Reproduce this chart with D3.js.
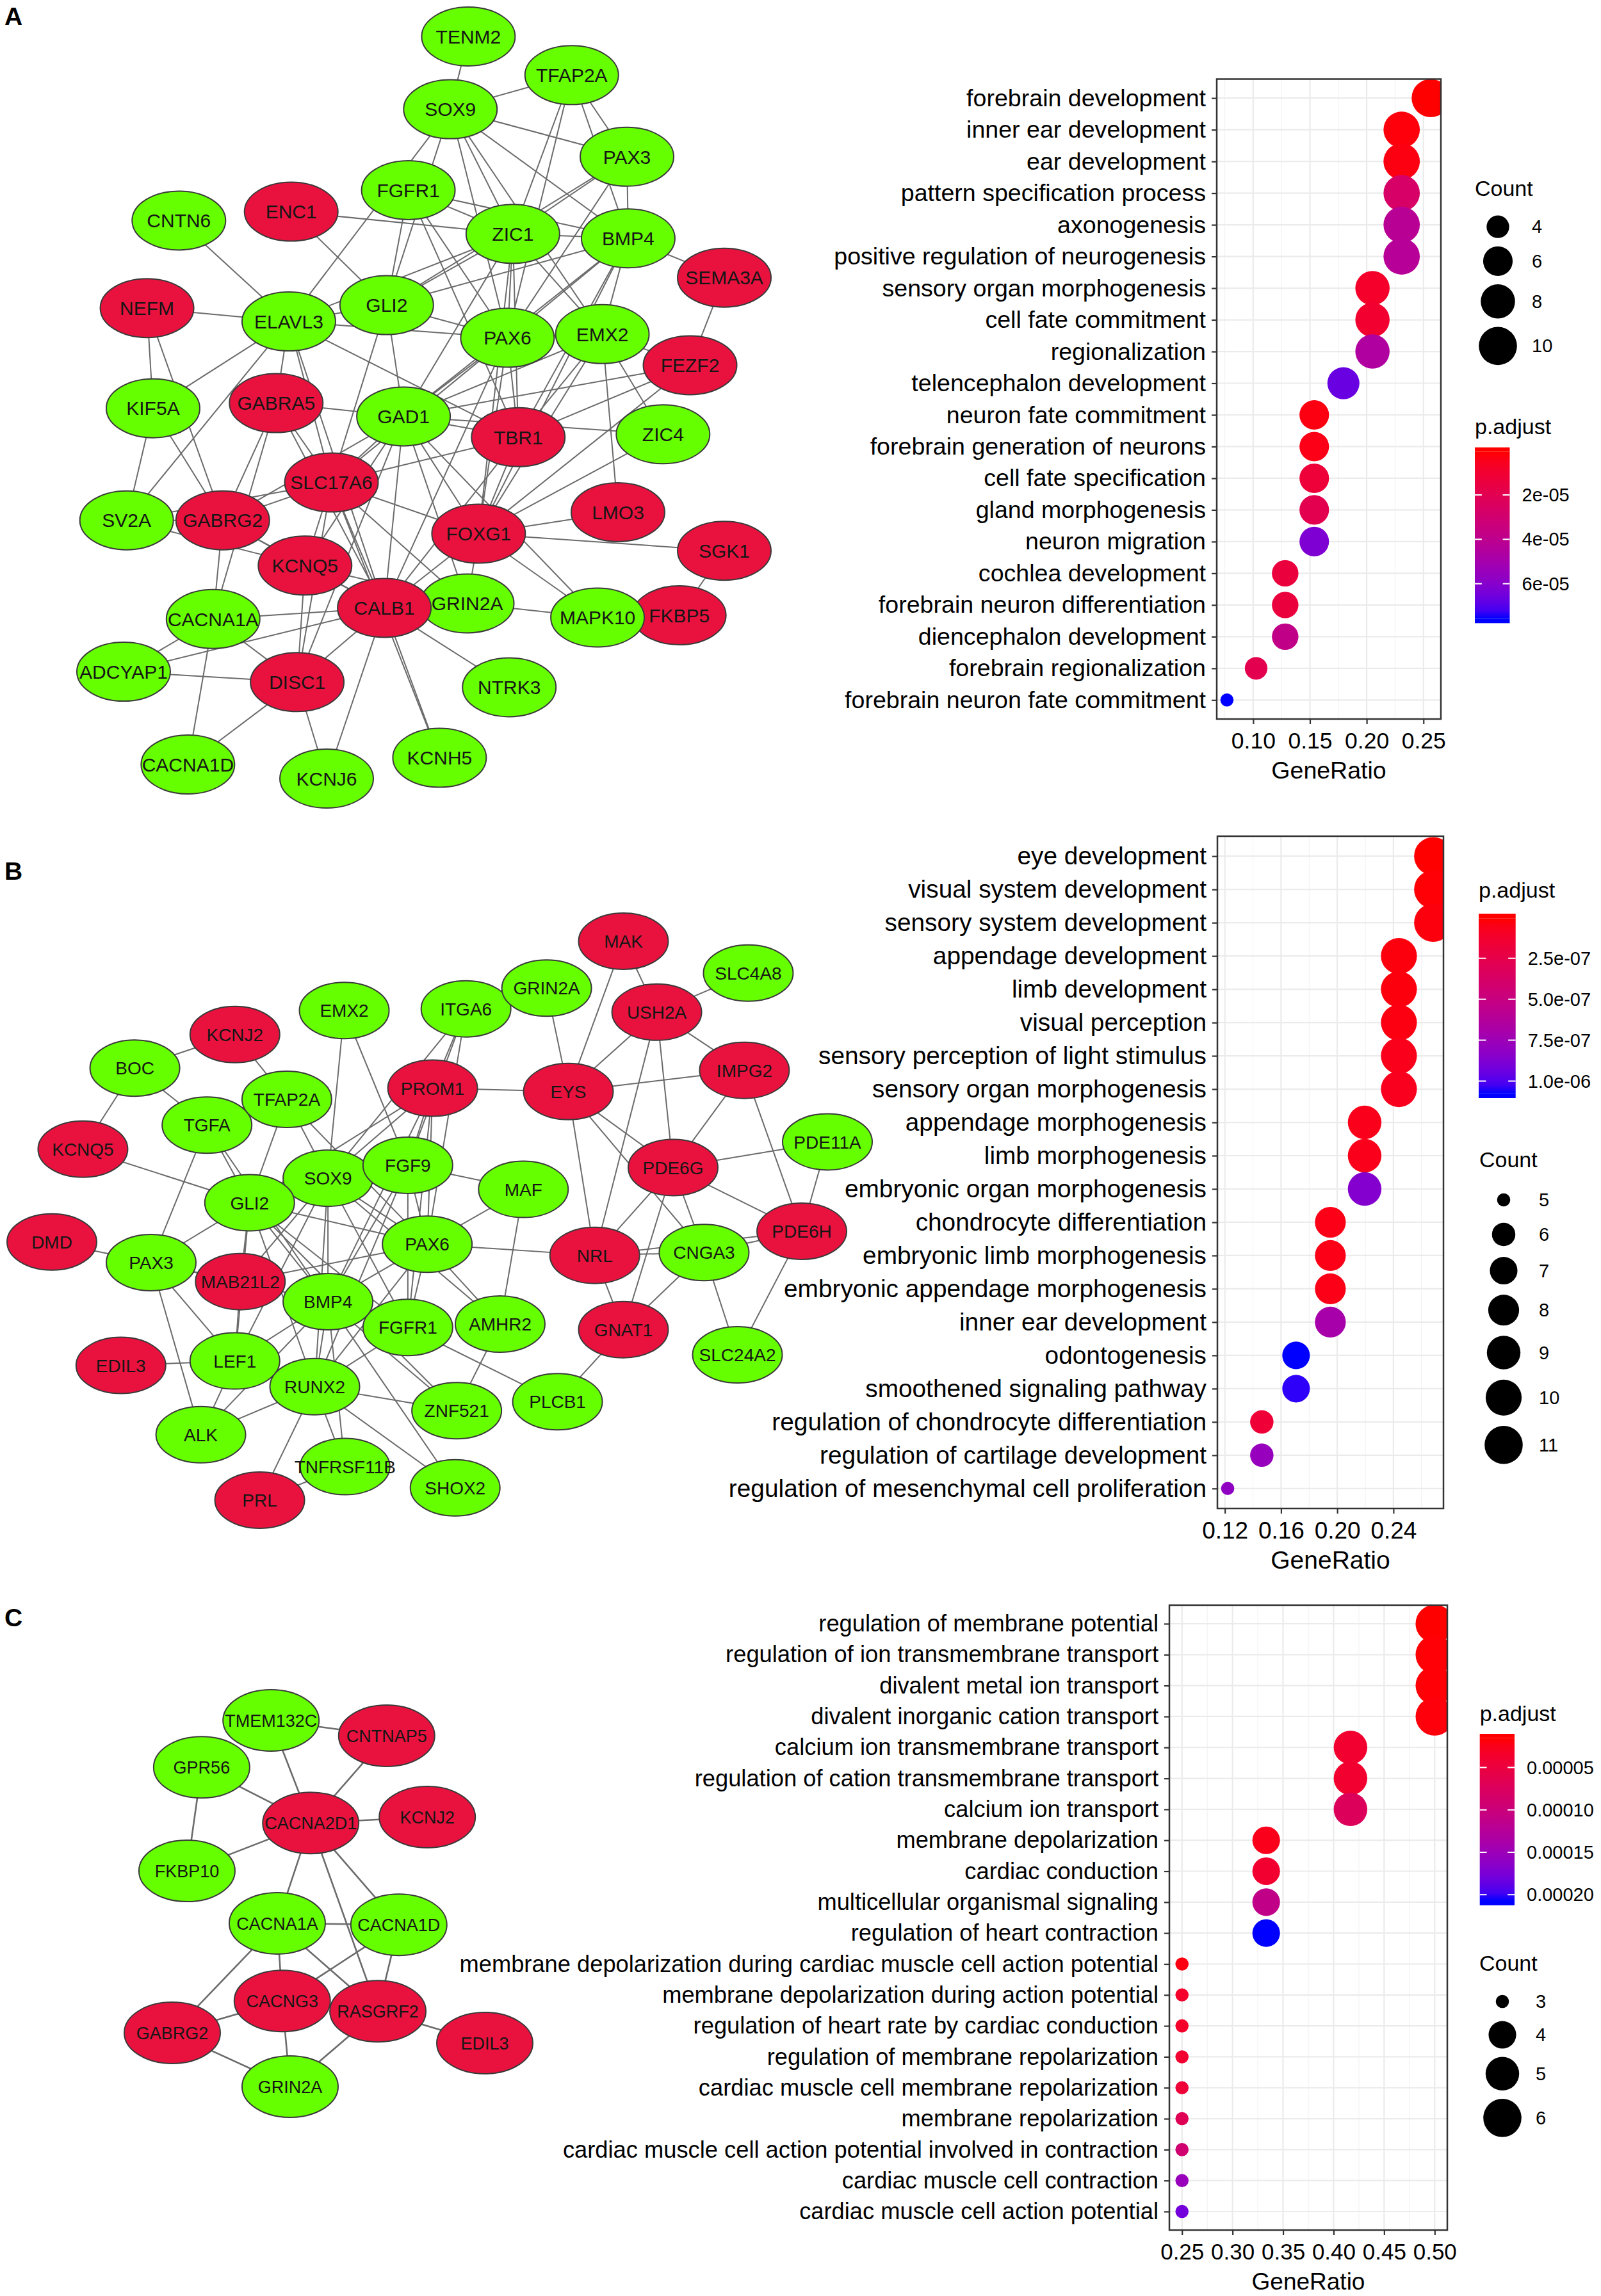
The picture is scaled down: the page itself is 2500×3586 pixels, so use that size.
<!DOCTYPE html>
<html>
<head>
  <meta charset="utf-8">
  <title>PPI networks and GO enrichment dot plots</title>
  <script src="https://cdnjs.cloudflare.com/ajax/libs/d3/7.8.5/d3.min.js"></script>
  <style>
    body {
      margin: 0;
      background: #fff;
    }
    svg {
      display: block;
      font-family: "Liberation Sans", Arial, sans-serif;
    }
    .edge {
      stroke: #6b6b6b;
    }
    .node ellipse {
      stroke: #3a3a3a;
      stroke-width: 2;
    }
    .node text {
      text-anchor: middle;
      fill: #151515;
    }
    .grid-major {
      stroke: #ebebeb;
      stroke-width: 2.2;
    }
    .grid-minor {
      stroke: #f1f1f1;
      stroke-width: 1.1;
    }
  </style>
</head>
<body>
  <script>
    const W = 2500, H = 3586;
    const FONT = '"Liberation Sans", Arial, sans-serif';
    const UP = "#e9123e", DOWN = "#66ff00";

    // ---------- Panel A: network ----------
    // layout coordinates (0-100) as exported from the network layout
    const nodesA = [
      { id: "TENM2", up: 0, lx: 57.4, ly: 0 },
      { id: "TFAP2A", up: 0, lx: 74.6, ly: 5.2 },
      { id: "SOX9", up: 0, lx: 54.4, ly: 9.8 },
      { id: "PAX3", up: 0, lx: 83.8, ly: 16.2 },
      { id: "FGFR1", up: 0, lx: 47.4, ly: 20.7 },
      { id: "ENC1", up: 1, lx: 27.9, ly: 23.6 },
      { id: "CNTN6", up: 0, lx: 9.2, ly: 24.8 },
      { id: "ZIC1", up: 0, lx: 64.8, ly: 26.6 },
      { id: "BMP4", up: 0, lx: 84.0, ly: 27.2 },
      { id: "SEMA3A", up: 1, lx: 100, ly: 32.5 },
      { id: "NEFM", up: 1, lx: 3.9, ly: 36.6 },
      { id: "ELAVL3", up: 0, lx: 27.5, ly: 38.4 },
      { id: "GLI2", up: 0, lx: 43.8, ly: 36.2 },
      { id: "PAX6", up: 0, lx: 63.9, ly: 40.6 },
      { id: "EMX2", up: 0, lx: 79.7, ly: 40.1 },
      { id: "FEZF2", up: 1, lx: 94.3, ly: 44.3 },
      { id: "KIF5A", up: 0, lx: 4.9, ly: 50.1 },
      { id: "GABRA5", up: 1, lx: 25.4, ly: 49.4 },
      { id: "GAD1", up: 0, lx: 46.6, ly: 51.2 },
      { id: "ZIC4", up: 0, lx: 89.8, ly: 53.6 },
      { id: "TBR1", up: 1, lx: 65.7, ly: 54.0 },
      { id: "SLC17A6", up: 1, lx: 34.6, ly: 60.1 },
      { id: "LMO3", up: 1, lx: 82.3, ly: 64.1 },
      { id: "SV2A", up: 0, lx: 0.5, ly: 65.2 },
      { id: "GABRG2", up: 1, lx: 16.5, ly: 65.2 },
      { id: "FOXG1", up: 1, lx: 59.1, ly: 67.0 },
      { id: "SGK1", up: 1, lx: 100, ly: 69.3 },
      { id: "KCNQ5", up: 1, lx: 30.2, ly: 71.3 },
      { id: "GRIN2A", up: 0, lx: 57.2, ly: 76.4 },
      { id: "CALB1", up: 1, lx: 43.4, ly: 77.0 },
      { id: "CACNA1A", up: 0, lx: 14.9, ly: 78.5 },
      { id: "FKBP5", up: 1, lx: 92.5, ly: 78.0 },
      { id: "MAPK10", up: 0, lx: 78.9, ly: 78.3 },
      { id: "ADCYAP1", up: 0, lx: 0, ly: 85.6 },
      { id: "DISC1", up: 1, lx: 28.9, ly: 87.0 },
      { id: "NTRK3", up: 0, lx: 64.2, ly: 87.7 },
      { id: "CACNA1D", up: 0, lx: 10.7, ly: 98.1 },
      { id: "KCNH5", up: 0, lx: 52.6, ly: 97.2 },
      { id: "KCNJ6", up: 0, lx: 33.8, ly: 100 }
    ];
    const edgesA = [
      ["TENM2", "SOX9"], ["SOX9", "TFAP2A"], ["SOX9", "PAX3"], ["SOX9", "ZIC1"], ["SOX9", "BMP4"],
      ["SOX9", "GLI2"], ["SOX9", "PAX6"], ["SOX9", "EMX2"], ["SOX9", "ELAVL3"], ["TFAP2A", "PAX3"],
      ["TFAP2A", "ZIC1"], ["TFAP2A", "BMP4"], ["TFAP2A", "PAX6"], ["PAX3", "ZIC1"], ["PAX3", "BMP4"],
      ["PAX3", "GLI2"], ["PAX3", "PAX6"], ["FGFR1", "ZIC1"], ["FGFR1", "BMP4"], ["FGFR1", "GLI2"],
      ["FGFR1", "PAX6"], ["FGFR1", "TBR1"], ["ENC1", "ZIC1"], ["ENC1", "GLI2"], ["CNTN6", "ELAVL3"],
      ["ZIC1", "BMP4"], ["ZIC1", "GLI2"], ["ZIC1", "PAX6"], ["ZIC1", "EMX2"], ["ZIC1", "TBR1"],
      ["ZIC1", "FOXG1"], ["ZIC1", "ELAVL3"], ["ZIC1", "GAD1"], ["BMP4", "GLI2"], ["BMP4", "PAX6"],
      ["BMP4", "SEMA3A"], ["BMP4", "EMX2"], ["BMP4", "TBR1"], ["BMP4", "FOXG1"], ["BMP4", "GAD1"],
      ["SEMA3A", "FEZF2"], ["NEFM", "ELAVL3"], ["NEFM", "KIF5A"], ["NEFM", "GABRG2"], ["ELAVL3", "GLI2"],
      ["ELAVL3", "PAX6"], ["ELAVL3", "KIF5A"], ["ELAVL3", "SV2A"], ["ELAVL3", "GABRA5"], ["ELAVL3", "SLC17A6"],
      ["ELAVL3", "TBR1"], ["ELAVL3", "CALB1"], ["GLI2", "PAX6"], ["GLI2", "GAD1"], ["GLI2", "SLC17A6"],
      ["PAX6", "EMX2"], ["PAX6", "GAD1"], ["PAX6", "TBR1"], ["PAX6", "FOXG1"], ["PAX6", "SLC17A6"],
      ["PAX6", "CALB1"], ["EMX2", "TBR1"], ["EMX2", "FOXG1"], ["EMX2", "ZIC4"], ["EMX2", "FEZF2"],
      ["EMX2", "LMO3"], ["EMX2", "GAD1"], ["FEZF2", "TBR1"], ["FEZF2", "FOXG1"], ["FEZF2", "GAD1"],
      ["ZIC4", "FOXG1"], ["ZIC4", "GAD1"], ["KIF5A", "SV2A"], ["KIF5A", "GABRG2"], ["GABRA5", "GAD1"],
      ["GABRA5", "SLC17A6"], ["GABRA5", "GABRG2"], ["GABRA5", "CACNA1A"], ["GABRA5", "CALB1"], ["GAD1", "TBR1"],
      ["GAD1", "SLC17A6"], ["GAD1", "FOXG1"], ["GAD1", "CALB1"], ["GAD1", "GRIN2A"], ["GAD1", "DISC1"],
      ["GAD1", "MAPK10"], ["GAD1", "KCNQ5"], ["GAD1", "GABRG2"], ["TBR1", "FOXG1"], ["TBR1", "SLC17A6"],
      ["TBR1", "CALB1"], ["SLC17A6", "GABRG2"], ["SLC17A6", "FOXG1"], ["SLC17A6", "CALB1"], ["SLC17A6", "GRIN2A"],
      ["SLC17A6", "DISC1"], ["SLC17A6", "KCNH5"], ["SLC17A6", "SV2A"], ["SLC17A6", "KCNQ5"], ["LMO3", "FOXG1"],
      ["FOXG1", "SGK1"], ["FOXG1", "CALB1"], ["FOXG1", "GRIN2A"], ["FOXG1", "MAPK10"], ["SGK1", "FKBP5"],
      ["MAPK10", "GRIN2A"], ["SV2A", "GABRG2"], ["SV2A", "KCNQ5"], ["GABRG2", "CACNA1A"], ["GABRG2", "CALB1"],
      ["GABRG2", "KCNQ5"], ["KCNQ5", "CALB1"], ["KCNQ5", "GRIN2A"], ["KCNQ5", "DISC1"], ["CALB1", "GRIN2A"],
      ["CALB1", "CACNA1A"], ["CALB1", "DISC1"], ["CALB1", "NTRK3"], ["CALB1", "KCNJ6"], ["CALB1", "KCNH5"],
      ["CALB1", "ADCYAP1"], ["CACNA1A", "ADCYAP1"], ["CACNA1A", "DISC1"], ["CACNA1A", "CACNA1D"], ["ADCYAP1", "DISC1"],
      ["DISC1", "CACNA1D"], ["DISC1", "KCNJ6"]
    ];

    // ---------- Panel B: network ----------
    const nodesB = [
      { id: "MAK", up: 1, lx: 73.7, ly: 0 },
      { id: "SLC4A8", up: 0, lx: 89.8, ly: 5.7 },
      { id: "ITGA6", up: 0, lx: 53.4, ly: 12.1 },
      { id: "GRIN2A", up: 0, lx: 63.8, ly: 8.4 },
      { id: "USH2A", up: 1, lx: 78.0, ly: 12.7 },
      { id: "EMX2", up: 0, lx: 37.7, ly: 12.4 },
      { id: "KCNJ2", up: 1, lx: 23.6, ly: 16.7 },
      { id: "BOC", up: 0, lx: 10.7, ly: 22.7 },
      { id: "IMPG2", up: 1, lx: 89.3, ly: 23.1 },
      { id: "TGFA", up: 0, lx: 20.0, ly: 32.9 },
      { id: "TFAP2A", up: 0, lx: 30.3, ly: 28.3 },
      { id: "PROM1", up: 1, lx: 49.1, ly: 26.3 },
      { id: "EYS", up: 1, lx: 66.6, ly: 26.9 },
      { id: "KCNQ5", up: 1, lx: 4.0, ly: 37.2 },
      { id: "PDE11A", up: 0, lx: 100, ly: 35.9 },
      { id: "PDE6G", up: 1, lx: 80.1, ly: 40.5 },
      { id: "SOX9", up: 0, lx: 35.6, ly: 42.4 },
      { id: "FGF9", up: 0, lx: 45.9, ly: 40.1 },
      { id: "MAF", up: 0, lx: 60.8, ly: 44.4 },
      { id: "GLI2", up: 0, lx: 25.5, ly: 46.8 },
      { id: "PDE6H", up: 1, lx: 96.7, ly: 51.9 },
      { id: "DMD", up: 1, lx: 0, ly: 53.8 },
      { id: "PAX3", up: 0, lx: 12.8, ly: 57.5 },
      { id: "PAX6", up: 0, lx: 48.4, ly: 54.2 },
      { id: "NRL", up: 1, lx: 70.0, ly: 56.2 },
      { id: "CNGA3", up: 0, lx: 84.1, ly: 55.7 },
      { id: "MAB21L2", up: 1, lx: 24.3, ly: 60.9 },
      { id: "FGFR1", up: 0, lx: 45.9, ly: 69.1 },
      { id: "BMP4", up: 0, lx: 35.6, ly: 64.5 },
      { id: "AMHR2", up: 0, lx: 57.8, ly: 68.5 },
      { id: "GNAT1", up: 1, lx: 73.7, ly: 69.5 },
      { id: "SLC24A2", up: 0, lx: 88.4, ly: 74.0 },
      { id: "EDIL3", up: 1, lx: 8.9, ly: 75.9 },
      { id: "LEF1", up: 0, lx: 23.6, ly: 75.1 },
      { id: "RUNX2", up: 0, lx: 33.9, ly: 79.7 },
      { id: "ZNF521", up: 0, lx: 52.2, ly: 84.0 },
      { id: "PLCB1", up: 0, lx: 65.2, ly: 82.4 },
      { id: "ALK", up: 0, lx: 19.2, ly: 88.3 },
      { id: "PRL", up: 1, lx: 26.8, ly: 100 },
      { id: "TNFRSF11B", up: 0, lx: 37.8, ly: 94.0 },
      { id: "SHOX2", up: 0, lx: 52.0, ly: 97.8 }
    ];
    const edgesB = [
      ["MAK", "USH2A"], ["MAK", "EYS"], ["SLC4A8", "USH2A"], ["GRIN2A", "EYS"], ["GRIN2A", "ITGA6"],
      ["USH2A", "EYS"], ["USH2A", "IMPG2"], ["USH2A", "PDE6G"], ["USH2A", "NRL"], ["EMX2", "SOX9"],
      ["EMX2", "FGF9"], ["ITGA6", "PROM1"], ["ITGA6", "FGF9"], ["ITGA6", "SOX9"], ["ITGA6", "PAX6"],
      ["KCNJ2", "BOC"], ["KCNJ2", "TFAP2A"], ["BOC", "KCNQ5"], ["BOC", "TGFA"], ["IMPG2", "EYS"],
      ["IMPG2", "PDE6G"], ["IMPG2", "PDE6H"], ["TFAP2A", "SOX9"], ["TFAP2A", "GLI2"], ["TFAP2A", "TGFA"],
      ["TFAP2A", "PAX6"], ["PROM1", "EYS"], ["PROM1", "SOX9"], ["PROM1", "FGF9"], ["PROM1", "GLI2"],
      ["PROM1", "PAX6"], ["PROM1", "FGFR1"], ["PROM1", "BMP4"], ["EYS", "PDE6G"], ["EYS", "NRL"],
      ["EYS", "CNGA3"], ["TGFA", "GLI2"], ["TGFA", "PAX3"], ["TGFA", "BMP4"], ["KCNQ5", "GLI2"],
      ["PDE11A", "PDE6G"], ["PDE11A", "PDE6H"], ["PDE6G", "PDE6H"], ["PDE6G", "NRL"], ["PDE6G", "CNGA3"],
      ["PDE6G", "GNAT1"], ["SOX9", "FGF9"], ["SOX9", "GLI2"], ["SOX9", "PAX6"], ["SOX9", "BMP4"],
      ["SOX9", "FGFR1"], ["SOX9", "RUNX2"], ["SOX9", "LEF1"], ["SOX9", "AMHR2"], ["SOX9", "MAB21L2"],
      ["FGF9", "MAF"], ["FGF9", "PAX6"], ["FGF9", "BMP4"], ["FGF9", "FGFR1"], ["FGF9", "RUNX2"],
      ["FGF9", "GLI2"], ["MAF", "PAX6"], ["MAF", "AMHR2"], ["GLI2", "PAX3"], ["GLI2", "PAX6"],
      ["GLI2", "BMP4"], ["GLI2", "MAB21L2"], ["GLI2", "RUNX2"], ["GLI2", "LEF1"], ["GLI2", "FGFR1"],
      ["GLI2", "ZNF521"], ["PDE6H", "CNGA3"], ["PDE6H", "SLC24A2"], ["PDE6H", "NRL"], ["DMD", "PAX3"],
      ["PAX3", "LEF1"], ["PAX3", "ALK"], ["PAX3", "BMP4"], ["PAX3", "MAB21L2"], ["PAX6", "NRL"],
      ["PAX6", "BMP4"], ["PAX6", "FGFR1"], ["PAX6", "AMHR2"], ["PAX6", "MAB21L2"], ["PAX6", "RUNX2"],
      ["NRL", "CNGA3"], ["NRL", "GNAT1"], ["CNGA3", "GNAT1"], ["CNGA3", "SLC24A2"], ["MAB21L2", "LEF1"],
      ["BMP4", "FGFR1"], ["BMP4", "LEF1"], ["BMP4", "RUNX2"], ["BMP4", "TNFRSF11B"], ["BMP4", "SHOX2"],
      ["BMP4", "ZNF521"], ["BMP4", "ALK"], ["FGFR1", "PLCB1"], ["FGFR1", "RUNX2"], ["AMHR2", "ZNF521"],
      ["GNAT1", "PLCB1"], ["EDIL3", "LEF1"], ["LEF1", "RUNX2"], ["LEF1", "ALK"], ["RUNX2", "ZNF521"],
      ["RUNX2", "ALK"], ["RUNX2", "TNFRSF11B"], ["RUNX2", "PRL"], ["RUNX2", "SHOX2"], ["TNFRSF11B", "PRL"]
    ];

    // ---------- Panel C: network ----------
    const nodesC = [
      { id: "TMEM132C", up: 0, lx: 31.6, ly: 0 },
      { id: "CNTNAP5", up: 1, lx: 68.6, ly: 4.2 },
      { id: "GPR56", up: 0, lx: 9.4, ly: 12.8 },
      { id: "CACNA2D1", up: 1, lx: 44.3, ly: 28.0 },
      { id: "KCNJ2", up: 1, lx: 81.6, ly: 26.4 },
      { id: "FKBP10", up: 0, lx: 4.7, ly: 41.1 },
      { id: "CACNA1A", up: 0, lx: 33.6, ly: 55.4 },
      { id: "CACNA1D", up: 0, lx: 72.5, ly: 55.8 },
      { id: "CACNG3", up: 1, lx: 35.2, ly: 76.6 },
      { id: "RASGRF2", up: 1, lx: 65.8, ly: 79.4 },
      { id: "GABRG2", up: 1, lx: 0, ly: 85.3 },
      { id: "EDIL3", up: 1, lx: 100, ly: 88.1 },
      { id: "GRIN2A", up: 0, lx: 37.7, ly: 100 }
    ];
    const edgesC = [
      ["TMEM132C", "CNTNAP5"], ["TMEM132C", "CACNA2D1"], ["CNTNAP5", "CACNA2D1"], ["GPR56", "CACNA2D1"],
      ["GPR56", "FKBP10"], ["FKBP10", "CACNA2D1"], ["CACNA2D1", "KCNJ2"], ["CACNA2D1", "CACNA1A"],
      ["CACNA2D1", "CACNA1D"], ["CACNA2D1", "RASGRF2"], ["CACNA1A", "CACNA1D"], ["CACNA1A", "CACNG3"],
      ["CACNA1A", "RASGRF2"], ["CACNA1A", "GABRG2"], ["CACNA1D", "CACNG3"], ["CACNA1D", "RASGRF2"],
      ["CACNG3", "GABRG2"], ["CACNG3", "GRIN2A"], ["RASGRF2", "GRIN2A"], ["RASGRF2", "EDIL3"],
      ["GABRG2", "GRIN2A"]
    ];

    // ---------- Panel A: GO dot plot ----------
    const termsA = ["forebrain development", "inner ear development", "ear development",
      "pattern specification process", "axonogenesis", "positive regulation of neurogenesis",
      "sensory organ morphogenesis", "cell fate commitment", "regionalization",
      "telencephalon development", "neuron fate commitment", "forebrain generation of neurons",
      "cell fate specification", "gland morphogenesis", "neuron migration", "cochlea development",
      "forebrain neuron differentiation", "diencephalon development", "forebrain regionalization",
      "forebrain neuron fate commitment"];
    const countA = [10, 9, 9, 9, 9, 9, 8, 8, 8, 7, 6, 6, 6, 6, 6, 5, 5, 5, 4, 3];
    const ratioA = [0.2564, 0.2308, 0.2308, 0.2308, 0.2308, 0.2308, 0.2051, 0.2051, 0.2051, 0.1795,
      0.1538, 0.1538, 0.1538, 0.1538, 0.1538, 0.1282, 0.1282, 0.1282, 0.1026, 0.0769];
    const padjA = [5.5e-7, 2.0e-6, 2.8e-6, 2.7e-5, 4.2e-5, 4.3e-5, 8.1e-6, 9.6e-6, 4.6e-5, 6.7e-5,
      2.8e-6, 3.6e-6, 1.2e-5, 1.9e-5, 6.2e-5, 1.4e-5, 1.4e-5, 3.8e-5, 1.9e-5, 7.58e-5];
    const xTicksA = [0.10, 0.15, 0.20, 0.25];
    const pTicksA = [2e-5, 4e-5, 6e-5];
    const pLabelsA = ["2e-05", "4e-05", "6e-05"];
    const countBreaksA = [4, 6, 8, 10];

    // ---------- Panel B: GO dot plot ----------
    const termsB = ["eye development", "visual system development", "sensory system development",
      "appendage development", "limb development", "visual perception",
      "sensory perception of light stimulus", "sensory organ morphogenesis", "appendage morphogenesis",
      "limb morphogenesis", "embryonic organ morphogenesis", "chondrocyte differentiation",
      "embryonic limb morphogenesis", "embryonic appendage morphogenesis", "inner ear development",
      "odontogenesis", "smoothened signaling pathway", "regulation of chondrocyte differentiation",
      "regulation of cartilage development", "regulation of mesenchymal cell proliferation"];
    const countB = [11, 11, 11, 10, 10, 10, 10, 10, 9, 9, 9, 8, 8, 8, 8, 7, 7, 6, 6, 5];
    const ratioB = [0.2683, 0.2683, 0.2683, 0.2439, 0.2439, 0.2439, 0.2439, 0.2439, 0.2195, 0.2195,
      0.2195, 0.1951, 0.1951, 0.1951, 0.1951, 0.1707, 0.1707, 0.1463, 0.1463, 0.1220];
    const padjB = [5.5e-9, 1.6e-8, 2.7e-8, 2.7e-8, 2.7e-8, 3.8e-8, 5.9e-8, 7.0e-8, 5.9e-8, 5.9e-8,
      8.6e-7, 4.8e-8, 4.8e-8, 4.8e-8, 7.0e-7, 1.0755e-6, 1.05e-6, 1.66e-7, 7.8e-7, 8.1e-7];
    const xTicksB = [0.12, 0.16, 0.20, 0.24];
    const pTicksB = [2.5e-7, 5.0e-7, 7.5e-7, 1.0e-6];
    const pLabelsB = ["2.5e-07", "5.0e-07", "7.5e-07", "1.0e-06"];
    const countBreaksB = [5, 6, 7, 8, 9, 10, 11];

    // ---------- Panel C: GO dot plot ----------
    const termsC = ["regulation of membrane potential", "regulation of ion transmembrane transport",
      "divalent metal ion transport", "divalent inorganic cation transport",
      "calcium ion transmembrane transport", "regulation of cation transmembrane transport",
      "calcium ion transport", "membrane depolarization", "cardiac conduction",
      "multicellular organismal signaling", "regulation of heart contraction",
      "membrane depolarization during cardiac muscle cell action potential",
      "membrane depolarization during action potential", "regulation of heart rate by cardiac conduction",
      "regulation of membrane repolarization", "cardiac muscle cell membrane repolarization",
      "membrane repolarization", "cardiac muscle cell action potential involved in contraction",
      "cardiac muscle cell contraction", "cardiac muscle cell action potential"];
    const countC = [6, 6, 6, 6, 5, 5, 5, 4, 4, 4, 4, 3, 3, 3, 3, 3, 3, 3, 3, 3];
    const ratioC = [0.5, 0.5, 0.5, 0.5, 0.4167, 0.4167, 0.4167, 0.3333, 0.3333, 0.3333, 0.3333,
      0.25, 0.25, 0.25, 0.25, 0.25, 0.25, 0.25, 0.25, 0.25];
    const padjC = [1.54e-5, 1.7e-5, 1.7e-5, 1.9e-5, 3.8e-5, 3.8e-5, 7.3e-5, 2.5e-5, 3.8e-5, 1.11e-4,
      2.074e-4, 2.1e-5, 3.5e-5, 3.5e-5, 3.8e-5, 4.4e-5, 6.9e-5, 9.2e-5, 1.54e-4, 1.79e-4];
    const xTicksC = [0.25, 0.30, 0.35, 0.40, 0.45, 0.50];
    const pTicksC = [5e-5, 1e-4, 1.5e-4, 2e-4];
    const pLabelsC = ["0.00005", "0.00010", "0.00015", "0.00020"];
    const countBreaksC = [3, 4, 5, 6];

    // point radius range (px) for the Count size scale
    const R_MIN = 10.3, R_MAX = 29.8;

    const svg = d3.select("body").append("svg")
      .attr("width", W)
      .attr("height", H)
      .attr("viewBox", `0 0 ${W} ${H}`);
    svg.append("rect").attr("width", W).attr("height", H).attr("fill", "#fff");

    // panel letters
    [["A", 39], ["B", 1374], ["C", 2540]].forEach(([t, yy]) => {
      svg.append("text").attr("x", 7).attr("y", yy)
        .attr("font-size", 39).attr("font-weight", "bold").attr("fill", "#000").text(t);
    });

    function drawNetwork(nodes, edges, box, opt) {
      const x = d3.scaleLinear().domain([0, 100]).range([box.x0, box.x1]);
      const y = d3.scaleLinear().domain([0, 100]).range([box.y0, box.y1]);
      const byId = new Map(nodes.map(n => [n.id, n]));
      const g = svg.append("g");

      g.append("g").selectAll("line")
        .data(edges)
        .join("line")
        .attr("class", "edge")
        .attr("stroke-width", opt.edgeW)
        .attr("x1", d => x(byId.get(d[0]).lx))
        .attr("y1", d => y(byId.get(d[0]).ly))
        .attr("x2", d => x(byId.get(d[1]).lx))
        .attr("y2", d => y(byId.get(d[1]).ly));

      const ng = g.append("g").selectAll("g")
        .data(nodes)
        .join("g")
        .attr("class", "node")
        .attr("transform", d => `translate(${x(d.lx)},${y(d.ly)})`);
      ng.append("ellipse")
        .attr("rx", opt.rx)
        .attr("ry", opt.ry)
        .attr("fill", d => d.up ? UP : DOWN);
      ng.append("text")
        .attr("dy", "0.36em")
        .attr("font-size", opt.fs)
        .text(d => d.id);
    }

    drawNetwork(nodesA, edgesA, { x0: 193, x1: 1131, y0: 57, y1: 1216 }, { rx: 73, ry: 46, fs: 30, edgeW: 2 });
    drawNetwork(nodesB, edgesB, { x0: 81, x1: 1292, y0: 1470, y1: 2343 }, { rx: 70, ry: 44, fs: 28, edgeW: 2 });
    drawNetwork(nodesC, edgesC, { x0: 269, x1: 757, y0: 2687, y1: 3259 }, { rx: 75, ry: 48, fs: 27, edgeW: 2.6 });

    function dotPlot(id, terms, ratio, count, padj, xTicks, pTicks, pLabels, countBreaks, L) {
      const g = svg.append("g");
      const ext = d3.extent(ratio), pad = (ext[1] - ext[0]) * 0.05;
      const x = d3.scaleLinear().domain([ext[0] - pad, ext[1] + pad]).range([L.left, L.right]);
      const y = d3.scalePoint().domain(terms).range([L.top, L.bottom]).padding(0.6);
      const pExt = d3.extent(padj);
      const color = d3.scaleLinear().domain(pExt).range(["#ff0000", "#0000ff"]).interpolate(d3.interpolateLab);
      const norm = d3.scaleLinear().domain(d3.extent(count)).range([0, 1]);
      const radius = c => R_MIN + (R_MAX - R_MIN) * Math.sqrt(norm(c));

      // grid
      const step = xTicks[1] - xTicks[0];
      const [d0, d1] = x.domain();
      const minor = [];
      for (let v = xTicks[0] - step / 2; v <= d1; v += step) if (v >= d0) minor.push(v);
      g.append("g").selectAll("line").data(minor).join("line")
        .attr("class", "grid-minor")
        .attr("x1", d => x(d)).attr("x2", d => x(d))
        .attr("y1", L.top).attr("y2", L.bottom);
      g.append("g").selectAll("line").data(xTicks).join("line")
        .attr("class", "grid-major")
        .attr("x1", d => x(d)).attr("x2", d => x(d))
        .attr("y1", L.top).attr("y2", L.bottom);
      g.append("g").selectAll("line").data(terms).join("line")
        .attr("class", "grid-major")
        .attr("x1", L.left).attr("x2", L.right)
        .attr("y1", d => y(d)).attr("y2", d => y(d));

      // points, clipped to the panel
      svg.append("clipPath").attr("id", "clip" + id)
        .append("rect")
        .attr("x", L.left).attr("y", L.top)
        .attr("width", L.right - L.left).attr("height", L.bottom - L.top);
      g.append("g").attr("clip-path", `url(#clip${id})`)
        .selectAll("circle")
        .data(terms)
        .join("circle")
        .attr("cx", (d, i) => x(ratio[i]))
        .attr("cy", d => y(d))
        .attr("r", (d, i) => radius(count[i]))
        .attr("fill", (d, i) => color(padj[i]));

      // panel border
      g.append("rect")
        .attr("x", L.left).attr("y", L.top)
        .attr("width", L.right - L.left).attr("height", L.bottom - L.top)
        .attr("fill", "none").attr("stroke", "#333").attr("stroke-width", 2.5);

      // axes
      const xa = g.append("g")
        .attr("transform", `translate(0,${L.bottom})`)
        .call(d3.axisBottom(x).tickValues(xTicks).tickFormat(d3.format(".2f")).tickSize(8).tickPadding(13));
      const ya = g.append("g")
        .attr("transform", `translate(${L.left},0)`)
        .call(d3.axisLeft(y).tickSize(8).tickPadding(9));
      [xa, ya].forEach(a => {
        a.attr("font-family", FONT).attr("font-size", null);
        a.select(".domain").remove();
        a.selectAll("line").attr("stroke", "#333").attr("stroke-width", 2.2);
        a.selectAll("text").attr("fill", "#000");
      });
      xa.selectAll("text").attr("font-size", L.xfs);
      ya.selectAll("text").attr("font-size", L.yfs);

      g.append("text")
        .attr("x", (L.left + L.right) / 2)
        .attr("y", L.bottom + 80)
        .attr("dy", "0.35em")
        .attr("text-anchor", "middle")
        .attr("font-size", L.xfs + 2)
        .attr("fill", "#000")
        .text("GeneRatio");

      // colour bar legend
      const cb = L.cbar;
      g.append("text").attr("x", cb.x).attr("y", cb.titleY).attr("dy", "0.35em")
        .attr("font-size", 34).attr("fill", "#000").text("p.adjust");
      const off = (cb.bottom - cb.top) / 40;
      const gy = d3.scaleLinear().domain(pExt).range([cb.top + off, cb.bottom - off]);
      const grad = svg.append("defs").append("linearGradient")
        .attr("id", "grad" + id)
        .attr("x1", 0).attr("x2", 0).attr("y1", 0).attr("y2", 1);
      d3.range(0, 1.0001, 0.05).forEach(t => {
        grad.append("stop").attr("offset", t)
          .attr("stop-color", color(pExt[0] + t * (pExt[1] - pExt[0])));
      });
      g.append("rect")
        .attr("x", cb.x).attr("y", cb.top + off)
        .attr("width", cb.w).attr("height", cb.bottom - cb.top - 2 * off)
        .attr("fill", `url(#grad${id})`);
      g.append("rect").attr("x", cb.x).attr("y", cb.top).attr("width", cb.w).attr("height", off)
        .attr("fill", color(pExt[0]));
      g.append("rect").attr("x", cb.x).attr("y", cb.bottom - off).attr("width", cb.w).attr("height", off)
        .attr("fill", color(pExt[1]));
      const tk = cb.w / 5;
      pTicks.forEach((v, i) => {
        const ty = gy(v);
        g.append("line").attr("x1", cb.x).attr("x2", cb.x + tk).attr("y1", ty).attr("y2", ty)
          .attr("stroke", "#fff").attr("stroke-width", 2);
        g.append("line").attr("x1", cb.x + cb.w - tk).attr("x2", cb.x + cb.w).attr("y1", ty).attr("y2", ty)
          .attr("stroke", "#fff").attr("stroke-width", 2);
        g.append("text").attr("x", cb.x + cb.w + 19).attr("y", ty).attr("dy", "0.35em")
          .attr("font-size", 29).attr("fill", "#000").text(pLabels[i]);
      });

      // count legend
      const cl = L.count;
      g.append("text").attr("x", cl.x).attr("y", cl.titleY).attr("dy", "0.35em")
        .attr("font-size", 34).attr("fill", "#000").text("Count");
      let yy = cl.titleY + 36;
      countBreaks.forEach(b => {
        const r = radius(b);
        const h = Math.max(cl.kmin, 2 * r + cl.kpad);
        const cy = yy + h / 2;
        g.append("circle").attr("cx", cl.keyX).attr("cy", cy).attr("r", r).attr("fill", "#000");
        g.append("text").attr("x", cl.labX).attr("y", cy).attr("dy", "0.35em")
          .attr("font-size", 29).attr("fill", "#000").text(b);
        yy += h;
      });
    }

    dotPlot("A", termsA, ratioA, countA, padjA, xTicksA, pTicksA, pLabelsA, countBreaksA, {
      left: 1900, right: 2250, top: 123.5, bottom: 1123, xfs: 35.5, yfs: 37.6,
      cbar: { x: 2303, w: 54.5, top: 698.7, bottom: 973.3, titleY: 666 },
      count: { x: 2303, titleY: 294, keyX: 2339, labX: 2392, kmin: 48, kpad: 13 }
    });
    dotPlot("B", termsB, ratioB, countB, padjB, xTicksB, pTicksB, pLabelsB, countBreaksB, {
      left: 1901, right: 2254, top: 1306, bottom: 2356, xfs: 37, yfs: 38.8,
      cbar: { x: 2309, w: 57.7, top: 1427, bottom: 1715, titleY: 1390 },
      count: { x: 2310, titleY: 1811, keyX: 2348, labX: 2403, kmin: 54, kpad: 16 }
    });
    dotPlot("C", termsC, ratioC, countC, padjC, xTicksC, pTicksC, pLabelsC, countBreaksC, {
      left: 1826, right: 2260, top: 2507, bottom: 3483, xfs: 35, yfs: 36.3,
      cbar: { x: 2310.7, w: 54.3, top: 2708, bottom: 2975.7, titleY: 2675.7 },
      count: { x: 2310, titleY: 3066, keyX: 2346, labX: 2398, kmin: 48, kpad: 13 }
    });
  </script>
</body>
</html>
